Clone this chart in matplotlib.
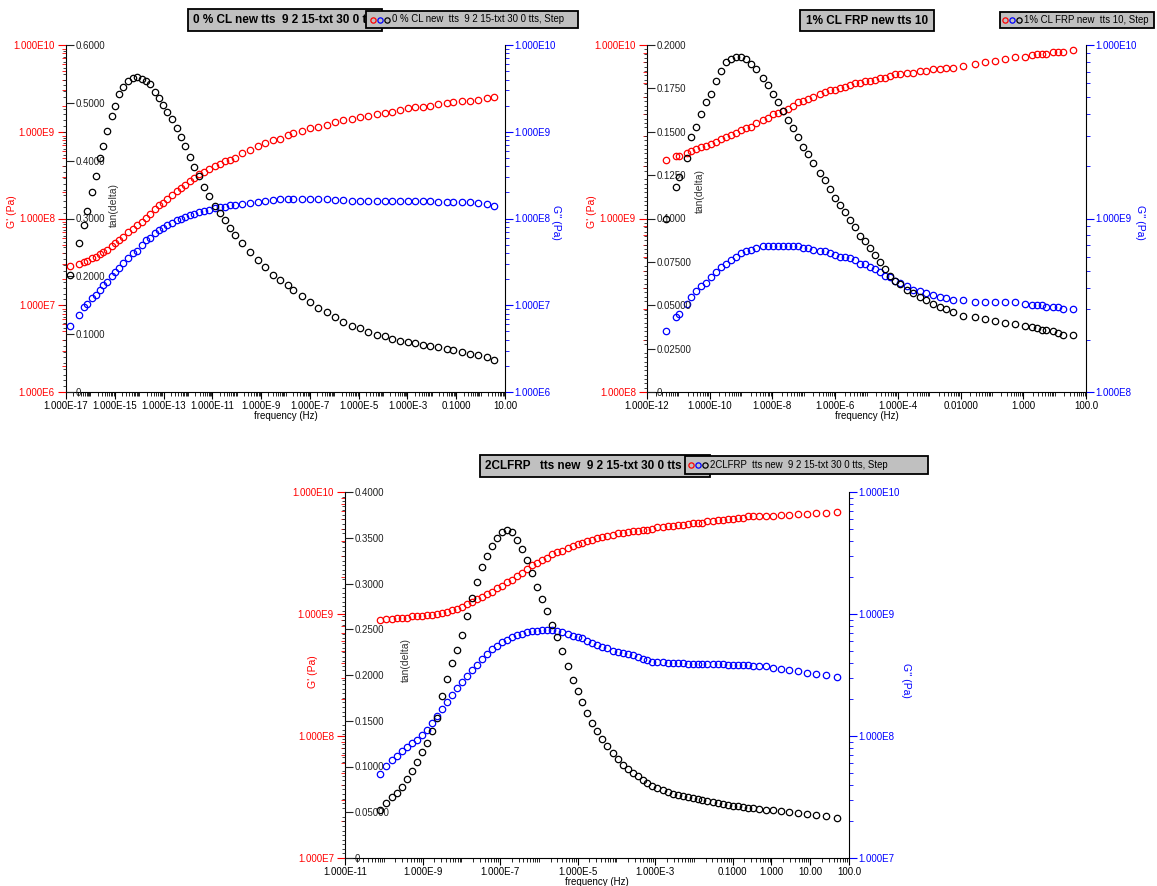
import numpy as np
import matplotlib
matplotlib.use("Agg")
import matplotlib.pyplot as plt
from matplotlib.ticker import LogLocator, MultipleLocator, NullFormatter
from matplotlib.patches import Rectangle
from matplotlib.lines import Line2D

plt.rcParams['font.family'] = ['Liberation Sans', 'DejaVu Sans']

# ---- data (log10 of frequency / modulus, tan delta as is) ----
# 0 % CL
tl_logf = [-16.84, -16.45, -16.26, -16.15, -15.92, -15.77, -15.61, -15.47, -15.31, -15.13,
           -14.99, -14.81, -14.65, -14.44, -14.27, -14.10, -13.90, -13.72, -13.56, -13.35,
           -13.19, -13.01, -12.85, -12.67, -12.46, -12.30, -12.12, -11.92, -11.74, -11.53,
           -11.34, -11.12, -10.89, -10.69, -10.48, -10.28, -10.07, -9.80, -9.46, -9.11,
           -8.84, -8.50, -8.23, -7.88, -7.68, -7.34, -7.00, -6.65, -6.31, -5.97,
           -5.63, -5.29, -4.95, -4.60, -4.26, -3.92, -3.65, -3.31, -2.96, -2.69,
           -2.35, -2.08, -1.73, -1.39, -1.12, -0.78, -0.44, -0.09, 0.25, 0.55]
tl_gp = [7.45, 7.48, 7.50, 7.51, 7.54, 7.56, 7.59, 7.61, 7.64, 7.68,
         7.72, 7.75, 7.79, 7.84, 7.88, 7.92, 7.96, 8.01, 8.05, 8.11,
         8.16, 8.18, 8.22, 8.27, 8.32, 8.35, 8.39, 8.43, 8.47, 8.51,
         8.54, 8.57, 8.60, 8.63, 8.66, 8.68, 8.70, 8.75, 8.79, 8.83,
         8.87, 8.90, 8.92, 8.96, 8.98, 9.01, 9.04, 9.06, 9.08, 9.11,
         9.13, 9.15, 9.17, 9.18, 9.20, 9.22, 9.23, 9.25, 9.27, 9.28,
         9.29, 9.30, 9.32, 9.33, 9.34, 9.35, 9.36, 9.37, 9.39, 9.40]
tl_gpp = [6.76, 6.89, 6.98, 7.01, 7.08, 7.12, 7.18, 7.23, 7.27, 7.34,
          7.38, 7.43, 7.49, 7.54, 7.60, 7.63, 7.69, 7.75, 7.78, 7.83,
          7.87, 7.89, 7.92, 7.95, 7.98, 7.99, 8.02, 8.04, 8.05, 8.07,
          8.09, 8.10, 8.12, 8.13, 8.13, 8.15, 8.15, 8.17, 8.18, 8.19,
          8.20, 8.21, 8.22, 8.22, 8.23, 8.22, 8.23, 8.22, 8.22, 8.21,
          8.21, 8.20, 8.20, 8.20, 8.20, 8.20, 8.20, 8.20, 8.20, 8.20,
          8.20, 8.20, 8.19, 8.19, 8.19, 8.19, 8.19, 8.18, 8.17, 8.14]
tl_tan = [0.202, 0.258, 0.288, 0.313, 0.346, 0.374, 0.405, 0.426, 0.452, 0.478,
          0.494, 0.516, 0.528, 0.538, 0.543, 0.545, 0.542, 0.538, 0.532, 0.519,
          0.509, 0.496, 0.485, 0.472, 0.456, 0.441, 0.425, 0.407, 0.389, 0.373,
          0.355, 0.339, 0.321, 0.310, 0.297, 0.284, 0.271, 0.258, 0.242, 0.228,
          0.216, 0.202, 0.193, 0.185, 0.177, 0.166, 0.156, 0.146, 0.138, 0.130,
          0.121, 0.114, 0.110, 0.104, 0.099, 0.096, 0.092, 0.089, 0.087, 0.084,
          0.081, 0.079, 0.077, 0.075, 0.072, 0.070, 0.066, 0.064, 0.061, 0.056]

# 1 % CL FRP
tr_logf = [-11.38, -11.06, -10.98, -10.74, -10.59, -10.43, -10.27, -10.11, -9.95, -9.79,
           -9.63, -9.47, -9.31, -9.15, -8.99, -8.83, -8.67, -8.51, -8.30, -8.14,
           -7.98, -7.82, -7.66, -7.50, -7.34, -7.18, -7.02, -6.86, -6.70, -6.49,
           -6.33, -6.17, -6.01, -5.85, -5.69, -5.53, -5.37, -5.21, -5.05, -4.89,
           -4.73, -4.57, -4.41, -4.26, -4.10, -3.94, -3.72, -3.51, -3.30, -3.09,
           -2.87, -2.66, -2.45, -2.23, -1.91, -1.54, -1.22, -0.90, -0.59, -0.27,
           0.05, 0.27, 0.43, 0.59, 0.74, 0.96, 1.12, 1.28, 1.60]
tr_gp = [9.34, 9.36, 9.36, 9.38, 9.39, 9.40, 9.41, 9.42, 9.43, 9.44,
         9.46, 9.47, 9.48, 9.49, 9.51, 9.52, 9.53, 9.55, 9.57, 9.58,
         9.60, 9.61, 9.62, 9.63, 9.65, 9.67, 9.68, 9.69, 9.70, 9.72,
         9.73, 9.74, 9.74, 9.75, 9.76, 9.77, 9.78, 9.78, 9.79, 9.79,
         9.80, 9.81, 9.81, 9.82, 9.83, 9.83, 9.84, 9.84, 9.85, 9.85,
         9.86, 9.86, 9.87, 9.87, 9.88, 9.89, 9.90, 9.91, 9.92, 9.93,
         9.93, 9.94, 9.95, 9.95, 9.95, 9.96, 9.96, 9.96, 9.97]
tr_gpp = [8.35, 8.43, 8.45, 8.51, 8.55, 8.58, 8.61, 8.63, 8.66, 8.69,
          8.72, 8.74, 8.76, 8.78, 8.80, 8.81, 8.82, 8.83, 8.84, 8.84,
          8.84, 8.84, 8.84, 8.84, 8.84, 8.84, 8.83, 8.83, 8.82, 8.81,
          8.81, 8.80, 8.79, 8.78, 8.78, 8.77, 8.76, 8.74, 8.74, 8.72,
          8.71, 8.69, 8.67, 8.66, 8.64, 8.63, 8.61, 8.59, 8.58, 8.57,
          8.56, 8.55, 8.54, 8.53, 8.53, 8.52, 8.52, 8.52, 8.52, 8.52,
          8.51, 8.50, 8.50, 8.50, 8.49, 8.49, 8.49, 8.48, 8.48]
tr_tan = [0.100, 0.118, 0.124, 0.135, 0.147, 0.153, 0.160, 0.167, 0.172, 0.179,
          0.185, 0.190, 0.192, 0.193, 0.193, 0.192, 0.189, 0.186, 0.181, 0.177,
          0.172, 0.167, 0.162, 0.157, 0.152, 0.147, 0.141, 0.137, 0.132, 0.126,
          0.122, 0.117, 0.112, 0.108, 0.104, 0.099, 0.095, 0.090, 0.087, 0.083,
          0.079, 0.075, 0.071, 0.067, 0.064, 0.062, 0.059, 0.057, 0.055, 0.053,
          0.051, 0.049, 0.048, 0.046, 0.044, 0.043, 0.042, 0.041, 0.040, 0.039,
          0.038, 0.0375, 0.037, 0.036, 0.036, 0.035, 0.034, 0.033, 0.033]

# 2CLFRP
b_logf = [-10.10, -9.94, -9.79, -9.66, -9.53, -9.40, -9.27, -9.14, -9.01, -8.88,
          -8.75, -8.62, -8.49, -8.36, -8.23, -8.11, -7.98, -7.85, -7.72, -7.59,
          -7.46, -7.33, -7.20, -7.07, -6.94, -6.81, -6.68, -6.56, -6.43, -6.30,
          -6.17, -6.04, -5.91, -5.78, -5.65, -5.52, -5.39, -5.26, -5.13, -5.00,
          -4.88, -4.75, -4.62, -4.49, -4.36, -4.23, -4.10, -3.97, -3.84, -3.71,
          -3.58, -3.45, -3.32, -3.20, -3.07, -2.94, -2.81, -2.68, -2.55, -2.42,
          -2.29, -2.16, -2.03, -1.90, -1.78, -1.65, -1.52, -1.39, -1.26, -1.13,
          -1.00, -0.87, -0.74, -0.61, -0.48, -0.33, -0.15, 0.03, 0.24, 0.45,
          0.68, 0.91, 1.14, 1.40, 1.69]
b_gp = [8.95, 8.96, 8.96, 8.97, 8.97, 8.97, 8.98, 8.98, 8.98, 8.99,
        8.99, 9.00, 9.01, 9.02, 9.03, 9.04, 9.06, 9.08, 9.10, 9.12,
        9.14, 9.16, 9.18, 9.21, 9.23, 9.26, 9.28, 9.31, 9.34, 9.37,
        9.40, 9.42, 9.44, 9.46, 9.49, 9.51, 9.52, 9.54, 9.56, 9.57,
        9.58, 9.60, 9.61, 9.62, 9.63, 9.64, 9.65, 9.66, 9.66, 9.67,
        9.68, 9.68, 9.69, 9.69, 9.70, 9.71, 9.71, 9.72, 9.72, 9.73,
        9.73, 9.74, 9.75, 9.75, 9.75, 9.76, 9.76, 9.77, 9.77, 9.78,
        9.78, 9.79, 9.79, 9.80, 9.80, 9.80, 9.80, 9.80, 9.81, 9.81,
        9.82, 9.82, 9.83, 9.83, 9.84]
b_gpp = [7.69, 7.75, 7.80, 7.84, 7.88, 7.91, 7.94, 7.97, 8.01, 8.05,
         8.11, 8.16, 8.22, 8.28, 8.34, 8.39, 8.44, 8.49, 8.54, 8.58,
         8.63, 8.67, 8.71, 8.74, 8.77, 8.79, 8.81, 8.83, 8.84, 8.85,
         8.86, 8.86, 8.87, 8.87, 8.87, 8.86, 8.85, 8.84, 8.82, 8.81,
         8.80, 8.78, 8.76, 8.75, 8.73, 8.72, 8.70, 8.69, 8.68, 8.67,
         8.66, 8.65, 8.63, 8.62, 8.61, 8.61, 8.61, 8.60, 8.60, 8.60,
         8.60, 8.59, 8.59, 8.59, 8.59, 8.59, 8.59, 8.59, 8.59, 8.58,
         8.58, 8.58, 8.58, 8.58, 8.57, 8.57, 8.57, 8.56, 8.55, 8.54,
         8.53, 8.52, 8.51, 8.50, 8.48]
b_tan = [0.052, 0.060, 0.067, 0.071, 0.078, 0.086, 0.095, 0.105, 0.116, 0.126,
         0.139, 0.153, 0.177, 0.196, 0.213, 0.227, 0.244, 0.265, 0.284, 0.302,
         0.318, 0.330, 0.341, 0.350, 0.356, 0.358, 0.356, 0.347, 0.338, 0.326,
         0.311, 0.296, 0.283, 0.270, 0.255, 0.241, 0.226, 0.210, 0.195, 0.183,
         0.171, 0.159, 0.148, 0.139, 0.130, 0.122, 0.115, 0.108, 0.102, 0.097,
         0.093, 0.090, 0.085, 0.082, 0.079, 0.076, 0.074, 0.072, 0.070, 0.069,
         0.068, 0.067, 0.066, 0.065, 0.063, 0.062, 0.061, 0.060, 0.059, 0.058,
         0.057, 0.057, 0.056, 0.055, 0.055, 0.054, 0.053, 0.052, 0.051, 0.050,
         0.049, 0.048, 0.047, 0.046, 0.044]

# tick labels
tl_xexp = [-17, -15, -13, -11, -9, -7, -5, -3, -1, 1]
tl_xlab = ['1.000E-17', '1.000E-15', '1.000E-13', '1.000E-11', '1.000E-9',
           '1.000E-7', '1.000E-5', '1.000E-3', '0.1000', '10.00']
tr_xexp = [-12, -10, -8, -6, -4, -2, 0, 2]
tr_xlab = ['1.000E-12', '1.000E-10', '1.000E-8', '1.000E-6', '1.000E-4',
           '0.01000', '1.000', '100.0']
b_xexp = [-11, -9, -7, -5, -3, -1, 0, 1, 2]
b_xlab = ['1.000E-11', '1.000E-9', '1.000E-7', '1.000E-5', '1.000E-3',
          '0.1000', '1.000', '10.00', '100.0']
tl_tlab = ['0', '0.1000', '0.2000', '0.3000', '0.4000', '0.5000', '0.6000']
tr_tlab = ['0', '0.02500', '0.05000', '0.07500', '0.1000', '0.1250', '0.1500', '0.1750', '0.2000']
b_tlab = ['0', '0.05000', '0.1000', '0.1500', '0.2000', '0.2500', '0.3000', '0.3500', '0.4000']

W, H = 1157, 886
fig = plt.figure(figsize=(W / 100, H / 100), dpi=100)

RED = '#ff0000'
BLUE = '#0000ff'
FS = 7


def rect_px(x0, y0, x1, y1):
    return [x0 / W, 1 - y1 / H, (x1 - x0) / W, (y1 - y0) / H]


def pts(ax, x, y, color):
    ax.plot(x, y, 'o', ms=4.6, mfc='none', mec=color, mew=0.9, clip_on=False, zorder=3)


def panel(rect, logf, gp, gpp, tan, xlim, xexp, xlab, gexp, tstep, tlab, lab_pos):
    f = 10 ** np.array(logf)
    ax = fig.add_axes(rect)
    ax.set_xscale('log')
    ax.set_yscale('log')
    ax.set_xlim(*xlim)
    ax.set_ylim(10.0 ** gexp[0], 10.0 ** gexp[1])
    pts(ax, f, 10 ** np.array(gp), RED)

    ax.set_xticks([10.0 ** e for e in xexp])
    ax.set_xticklabels(xlab)
    ax.xaxis.set_minor_locator(LogLocator(base=10, subs=np.arange(1, 10), numticks=200))
    ax.xaxis.set_minor_formatter(NullFormatter())
    ax.tick_params(axis='x', which='major', length=5, labelsize=FS, pad=1.5, colors='black')
    ax.tick_params(axis='x', which='minor', length=3)
    ax.set_xlabel('frequency (Hz)', fontsize=FS, labelpad=0)

    gt = [10.0 ** e for e in range(gexp[0], gexp[1] + 1)]
    ax.set_yticks(gt)
    ax.set_yticklabels(['1.000E%d' % e for e in range(gexp[0], gexp[1] + 1)])
    ax.yaxis.set_minor_locator(LogLocator(base=10, subs=np.arange(2, 10), numticks=50))
    ax.yaxis.set_minor_formatter(NullFormatter())
    ax.tick_params(axis='y', which='major', length=6, labelsize=FS, colors=RED, pad=2)
    ax.tick_params(axis='y', which='minor', length=3, colors=RED)
    for s in ('top', 'right'):
        ax.spines[s].set_visible(False)

    # G'' on right
    ax2 = ax.twinx()
    ax2.set_yscale('log')
    ax2.set_ylim(10.0 ** gexp[0], 10.0 ** gexp[1])
    pts(ax2, f, 10 ** np.array(gpp), BLUE)
    ax2.set_yticks(gt)
    ax2.set_yticklabels(['1.000E%d' % e for e in range(gexp[0], gexp[1] + 1)])
    ax2.yaxis.set_minor_locator(LogLocator(base=10, subs=np.arange(2, 10), numticks=50))
    ax2.yaxis.set_minor_formatter(NullFormatter())
    ax2.tick_params(axis='y', which='major', length=6, labelsize=FS, colors=BLUE, pad=1)
    ax2.tick_params(axis='y', which='minor', length=3, colors=BLUE)
    for s in ('top', 'left', 'bottom'):
        ax2.spines[s].set_visible(False)

    # tan(delta) on left, labels inside
    ax3 = ax.twinx()
    ax3.yaxis.tick_left()
    tmax = tstep * (len(tlab) - 1)
    ax3.set_ylim(0, tmax)
    pts(ax3, f, tan, 'black')
    ax3.set_yticks([tstep * i for i in range(len(tlab))])
    ax3.set_yticklabels(tlab, ha='left')
    ax3.yaxis.set_minor_locator(MultipleLocator(tstep / 10))
    ax3.tick_params(axis='y', which='major', direction='in', length=6, labelsize=FS,
                    colors='#222222', pad=-7)
    ax3.tick_params(axis='y', which='minor', direction='out', length=2, colors='#222222')
    for s in ('top', 'right', 'bottom', 'left'):
        ax3.spines[s].set_visible(False)

    gx, gy, tx, ty, px2, py2 = lab_pos
    ax.text(gx, gy, "G' (Pa)", rotation=90, color=RED, fontsize=FS + 0.5,
            transform=ax.transAxes, ha='center', va='center')
    ax.text(tx, ty, "tan(delta)", rotation=90, color='#333333', fontsize=FS + 0.5,
            transform=ax.transAxes, ha='center', va='center')
    ax.text(px2, py2, "G'' (Pa)", rotation=-90, color=BLUE, fontsize=FS + 0.5,
            transform=ax.transAxes, ha='center', va='center')


def title_box(x0, y0, x1, y1, text, tx, centered=False):
    fig.add_artist(Rectangle((x0 / W, 1 - y1 / H), (x1 - x0) / W, (y1 - y0) / H,
                             transform=fig.transFigure, fc='#c0c0c0', ec='black', lw=1.3, zorder=5))
    fig.text(tx / W, 1 - (y0 + y1) / 2 / H, text, fontsize=8.5, fontweight='bold',
             ha='center' if centered else 'left', va='center', zorder=6)


def legend_box(x0, y0, x1, y1, text, mx):
    fig.add_artist(Rectangle((x0 / W, 1 - y1 / H), (x1 - x0) / W, (y1 - y0) / H,
                             transform=fig.transFigure, fc='#c0c0c0', ec='black', lw=1.3, zorder=7))
    yc = 1 - (y0 + y1) / 2 / H
    for i, c in enumerate([RED, BLUE, 'black']):
        fig.add_artist(Line2D([(mx + 7 * i) / W], [yc], marker='o', ms=3.8, mfc='none', mec=c,
                              mew=0.9, transform=fig.transFigure, zorder=8))
    fig.text((mx + 19) / W, yc, text, fontsize=6.9, ha='left', va='center', zorder=8)


panel(rect_px(66, 45, 505, 392), tl_logf, tl_gp, tl_gpp, tl_tan, (1e-17, 10),
      tl_xexp, tl_xlab, (6, 10), 0.1, tl_tlab,
      (-0.123, 0.52, 0.108, 0.54, 1.116, 0.49))
panel(rect_px(647, 45, 1086, 392), tr_logf, tr_gp, tr_gpp, tr_tan, (1e-12, 100),
      tr_xexp, tr_xlab, (8, 10), 0.025, tr_tlab,
      (-0.125, 0.52, 0.12, 0.58, 1.123, 0.49))
panel(rect_px(345, 492, 849, 858), b_logf, b_gp, b_gpp, b_tan, (1e-11, 100),
      b_xexp, b_xlab, (7, 10), 0.05, b_tlab,
      (-0.063, 0.51, 0.12, 0.54, 1.113, 0.486))

title_box(188, 9, 382, 31, '0 % CL new tts  9 2 15-txt 30 0 tts', 193)
legend_box(366, 11, 578, 28, '0 % CL new  tts  9 2 15-txt 30 0 tts, Step', 373)
title_box(800, 10, 934, 31, '1% CL FRP new tts 10', 867, centered=True)
legend_box(1000, 12, 1154, 28, '1% CL FRP new  tts 10, Step', 1005)
title_box(480, 455, 710, 477, '2CLFRP   tts new  9 2 15-txt 30 0 tts', 485)
legend_box(685, 456, 928, 474, '2CLFRP  tts new  9 2 15-txt 30 0 tts, Step', 691)

fig.savefig('out.png', dpi=100)
